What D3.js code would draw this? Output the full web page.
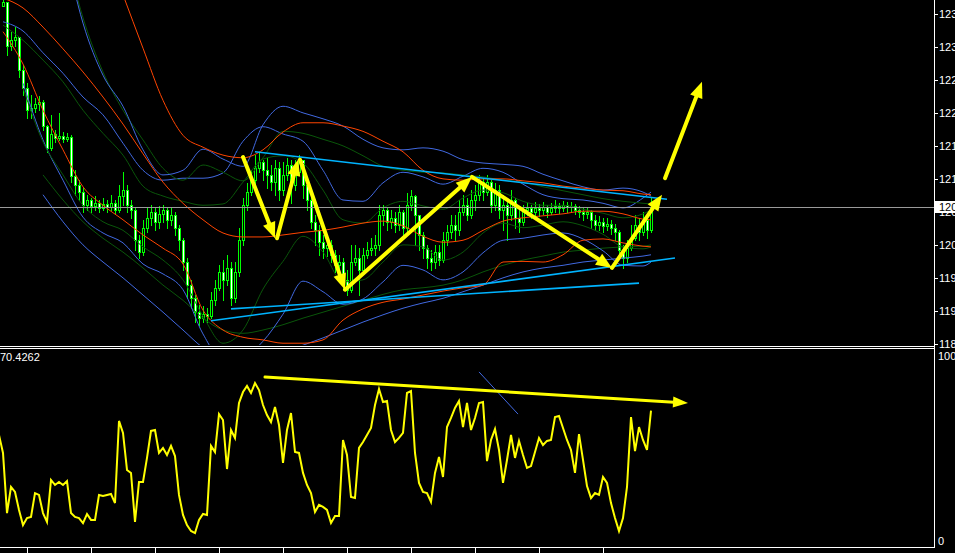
<!DOCTYPE html>
<html><head><meta charset="utf-8">
<script src="https://cdn.jsdelivr.net/npm/d3@7"></script>
<style>html,body{margin:0;padding:0;background:#000;overflow:hidden}</style>
</head><body>
<svg id="c" width="955" height="553"></svg>
<script>
// ---------- DATA ----------
const priceTicks = [1236.38,1231.38,1226.38,1221.38,1216.38,1211.38,1206.38,1201.38,1196.38,1191.38,1186.38];
const priceTickLabels = ["1236.38","1231.38","1226.38","1221.38","1216.38","1211.38","1206.38","1201.38","1196.38","1191.38","1186.38"];
const indTicks = [100, 0];
const indTickLabels = ["100", "0"];
const timeTickBars = [6,22,38,54,70,86,102,118,134,150];
const firstOpen = 1237.6;
const close = [1238.2,1231.6,1232.4,1232.9,1227.9,1225.2,1221.8,1222.1,1222.7,1223.0,
1219.4,1216.1,1218.2,1217.6,1217.9,1217.4,1217.7,1211.8,1210.5,1209.4,
1207.4,1208.2,1207.3,1207.7,1207.0,1207.6,1207.1,1207.7,1206.7,1208.8,
1209.7,1207.4,1206.7,1202.1,1200.3,1203.9,1205.5,1206.4,1204.9,1206.1,
1206.7,1205.2,1205.9,1203.9,1202.1,1198.8,1195.3,1193.3,1191.2,1190.3,
1190.9,1190.6,1193.0,1194.9,1197.3,1196.1,1197.9,1193.3,1197.3,1202.1,
1207.4,1209.4,1211.2,1213.0,1214.0,1212.7,1212.0,1210.9,1213.0,1209.7,
1212.0,1213.5,1210.5,1212.4,1214.3,1210.5,1208.2,1204.9,1203.6,1201.8,
1200.9,1201.4,1199.9,1198.4,1198.8,1196.1,1194.6,1198.8,1199.4,1197.6,
1199.9,1200.6,1200.9,1201.4,1205.9,1206.7,1204.9,1205.5,1204.4,1206.4,
1203.9,1207.4,1208.8,1205.9,1202.9,1200.9,1199.4,1198.8,1200.3,1199.1,
1202.1,1203.3,1204.4,1203.6,1206.4,1207.4,1205.9,1208.2,1209.0,1210.9,
1209.4,1210.9,1207.4,1209.7,1206.7,1207.4,1205.9,1208.2,1205.5,1204.9,
1206.7,1207.0,1206.4,1207.0,1206.7,1207.1,1206.4,1207.0,1207.3,1207.0,
1207.4,1207.1,1207.3,1206.7,1206.4,1206.1,1206.4,1205.2,1204.4,1204.9,
1204.3,1204.6,1203.9,1203.3,1200.6,1199.4,1200.9,1202.4,1204.4,1203.3,
1205.2,1203.6,1207.1];
const high = [1238.5,1235.3,1233.7,1234.4,1232.4,1228.6,1225.9,1224.1,1223.6,1223.9,
1223.3,1219.6,1221.1,1218.8,1221.4,1218.5,1218.3,1218.0,1212.7,1211.2,
1210.0,1209.0,1208.5,1208.8,1208.2,1208.5,1208.2,1209.0,1208.2,1210.5,
1212.4,1210.5,1208.2,1207.0,1202.9,1205.2,1207.0,1207.4,1207.0,1207.3,
1207.4,1207.0,1207.0,1206.4,1204.4,1202.4,1199.4,1196.1,1193.8,1192.3,
1192.1,1191.8,1194.3,1196.1,1198.4,1199.1,1199.9,1198.8,1198.8,1203.9,
1208.5,1210.8,1212.7,1215.0,1215.5,1214.3,1214.6,1213.5,1214.3,1214.0,
1214.0,1214.6,1214.3,1214.3,1215.0,1214.3,1211.2,1209.0,1205.9,1204.4,
1202.9,1202.4,1202.1,1200.6,1199.9,1199.4,1197.6,1201.4,1201.4,1200.9,
1200.9,1201.8,1202.4,1202.9,1207.4,1207.4,1207.0,1206.7,1206.4,1207.4,
1206.7,1209.3,1209.7,1209.0,1205.9,1203.3,1201.4,1200.6,1201.4,1201.4,
1203.3,1204.4,1205.9,1205.9,1208.2,1209.0,1208.5,1209.7,1210.5,1212.0,
1211.5,1212.0,1211.2,1210.8,1210.5,1209.0,1208.5,1209.7,1208.5,1206.7,
1207.4,1207.7,1207.4,1207.9,1207.6,1207.9,1207.4,1207.7,1208.2,1207.7,
1208.0,1207.9,1207.9,1207.6,1207.3,1207.0,1207.1,1206.7,1205.9,1205.8,
1205.5,1205.5,1205.2,1204.6,1203.6,1201.4,1202.1,1204.4,1205.9,1205.5,
1206.4,1205.9,1208.5];
const low = [1237.6,1230.1,1230.9,1231.6,1226.8,1224.1,1220.6,1220.6,1221.5,1221.8,
1218.8,1215.5,1215.8,1217.0,1217.3,1217.0,1217.1,1210.9,1209.0,1208.2,
1206.4,1206.7,1206.4,1206.7,1206.4,1206.7,1206.4,1206.7,1206.1,1206.4,
1207.4,1206.4,1205.5,1200.6,1199.4,1199.9,1203.3,1204.4,1203.6,1203.9,
1204.9,1203.9,1204.4,1202.9,1200.6,1197.6,1193.4,1191.8,1189.7,1189.2,
1189.7,1189.7,1190.3,1192.3,1194.6,1193.0,1195.3,1192.3,1192.7,1196.7,
1201.4,1206.7,1209.0,1210.5,1212.4,1211.2,1210.0,1209.7,1209.0,1208.2,
1209.0,1211.2,1207.7,1209.7,1212.0,1208.5,1206.7,1203.9,1201.4,1199.9,
1199.4,1199.7,1198.8,1197.3,1196.8,1194.9,1193.8,1194.3,1198.4,1193.8,
1197.6,1199.4,1199.9,1199.9,1200.6,1204.4,1203.6,1203.9,1203.3,1203.6,
1202.9,1203.3,1206.7,1201.4,1200.6,1199.4,1197.9,1197.6,1197.9,1198.4,
1198.8,1201.4,1202.4,1202.1,1202.9,1205.9,1205.2,1205.5,1206.7,1208.2,
1208.2,1209.0,1206.4,1206.7,1205.5,1203.6,1202.1,1205.2,1203.9,1203.3,
1204.4,1205.9,1205.5,1205.9,1205.8,1206.1,1205.6,1206.1,1206.4,1206.2,
1206.5,1206.4,1206.5,1206.1,1205.6,1205.2,1205.5,1203.9,1203.6,1203.6,
1203.3,1203.6,1203.0,1202.1,1199.4,1197.9,1198.8,1200.6,1202.1,1202.1,
1202.9,1202.4,1203.3];

// band lines sampled at these bars
const bandBars = [0,5,10,15,20,25,30,35,40,45,50,55,60,65,70,75,80,85,90,95,100,105,110,115,120,125,130,135,140,145,150,155,160,162];
const redUpper = [null,null,null,null,null,null,1239.3,1231.2,1223.3,1218.0,1216.2,1215.0,1214.6,1215.8,1218.5,1219.9,1219.9,1219.4,1218.6,1217.1,1215.5,1212.7,1211.4,1211.2,1211.4,1211.4,1211.1,1210.8,1210.3,1210.0,1209.7,1209.6,1209.1,1209.0];
const redMid = [1238.8,1237.3,1234.4,1231.1,1227.6,1223.8,1219.7,1215.2,1210.9,1207.7,1205.2,1203.2,1202.6,1202.6,1202.9,1203.3,1203.6,1204.1,1204.7,1205.0,1204.3,1202.7,1201.8,1202.1,1203.6,1205.0,1205.5,1205.8,1206.1,1206.5,1206.5,1206.1,1205.3,1205.2];
const redLower = [1233.7,1228.8,1221.8,1215.8,1210.2,1207.4,1205.2,1202.9,1200.9,1198.5,1191.5,1188.5,1187.4,1187.0,1186.5,1186.5,1187.0,1190.0,1191.7,1192.7,1193.2,1193.8,1194.4,1194.9,1195.3,1198.8,1198.9,1198.8,1199.9,1202.1,1202.3,1201.7,1201.2,1201.1];
const blueSlowUpper = [null,null,null,1247.6,1235.0,1227.1,1222.4,1215.8,1212.0,1212.7,1215.9,1214.4,1213.3,1219.6,1222.4,1221.4,1220.5,1219.4,1217.4,1216.1,1215.8,1216.1,1215.6,1214.3,1213.8,1213.6,1213.3,1212.1,1211.1,1210.2,1209.7,1210.0,1209.4,1208.8];
const greenSlowUpper = [null,null,null,1247.6,1235.8,1227.6,1221.8,1217.3,1213.0,1211.2,1213.5,1212.4,1211.1,1214.6,1218.6,1218.3,1217.4,1216.4,1214.9,1213.3,1212.7,1212.4,1212.3,1212.0,1211.7,1211.2,1210.9,1210.2,1209.6,1209.0,1208.4,1208.0,1207.7,1207.6];
const blueFastUpper = [1235.2,1233.8,1230.5,1227.4,1223.8,1221.1,1216.8,1212.7,1211.2,1211.5,1211.5,1212.3,1217.1,1219.3,1218.2,1217.1,1212.7,1208.2,1208.0,1210.8,1212.4,1211.7,1210.6,1211.8,1213.0,1212.4,1210.6,1209.0,1208.4,1208.2,1207.7,1207.0,1208.5,1209.4];
const greenFastUpper = [1234.7,1232.4,1229.4,1226.1,1221.8,1218.3,1215.0,1210.3,1208.8,1208.0,1207.4,1207.6,1210.9,1214.4,1214.9,1213.8,1209.7,1205.2,1204.7,1207.0,1208.0,1207.3,1206.8,1208.5,1209.7,1209.3,1208.0,1207.4,1207.4,1206.8,1206.2,1205.5,1206.1,1206.7];
const greenFastLower = [null,1225.2,1217.0,1212.0,1207.4,1204.9,1203.6,1201.1,1199.1,1196.1,1190.6,1186.5,1188.5,1194.7,1198.9,1202.7,1200.3,1195.8,1196.1,1198.8,1201.4,1201.1,1199.1,1200.3,1203.2,1204.7,1204.0,1204.4,1204.9,1204.3,1203.0,1201.1,1200.8,1201.1];
const blueFastLower = [null,1225.9,1217.3,1211.2,1205.6,1203.2,1201.7,1198.5,1197.0,1194.6,1187.9,1184.0,1184.3,1186.8,1190.9,1195.9,1194.3,1192.4,1193.2,1195.8,1198.3,1197.6,1196.1,1197.3,1200.2,1202.1,1202.4,1202.9,1203.2,1202.3,1200.5,1198.3,1198.2,1198.8];
const greenSlowLower = [null,null,1212.0,1208.2,1204.9,1202.4,1200.3,1197.9,1195.3,1193.0,1190.3,1188.5,1188.0,1188.5,1189.3,1190.3,1191.2,1192.1,1193.0,1193.9,1194.6,1194.9,1195.3,1196.1,1197.3,1198.3,1199.1,1199.7,1200.3,1200.6,1200.9,1201.1,1201.2,1201.4];
const blueSlowLower = [null,null,1209.0,1204.9,1201.4,1198.8,1196.4,1193.8,1191.2,1188.5,1185.8,1184.0,1183.7,1184.3,1185.2,1186.2,1187.3,1188.5,1189.7,1190.8,1191.8,1192.6,1193.3,1194.3,1195.3,1196.4,1197.3,1197.9,1198.3,1198.8,1199.1,1199.4,1199.7,1199.9];

// trend lines: [bar, price] endpoints
const trendLines = [
  [[63,1215.5],[166,1208.3]],
  [[57,1191.7],[159,1195.6]],
  [[52,1189.9],[168,1199.4]]
];
// yellow arrows on price panel
const priceArrows = [
  [[60,1214.7],[68,1202.4]],
  [[68.5,1202.4],[73.75,1214.3]],
  [[74.25,1214.3],[85.5,1194.6]],
  [[85.5,1194.6],[117.25,1211.7]],
  [[117.25,1211.7],[152.25,1197.9]],
  [[152.25,1197.9],[164.75,1209.0]],
  [[165.5,1211.5],[174.75,1226.1]]
];
// oscillator, starting at bar -1
const oscStart = -1;
const osc = [57.3,47.6,15.1,29.2,26.5,16.8,8.6,12.4,13.0,25.9,24.9,
15.1,10.3,33.0,30.3,31.9,30.3,32.4,15.1,13.0,12.4,
9.7,14.6,11.4,11.4,24.9,24.3,24.9,25.4,20.5,64.9,
58.4,38.4,36.8,10.3,31.9,31.9,44.9,59.5,60.0,47.6,
50.3,46.5,51.4,45.9,24.9,14.1,8.6,5.4,4.3,11.4,
14.6,14.1,51.4,48.1,68.6,65.4,38.9,60.0,55.7,74.6,
80.5,83.8,80.0,85.4,81.6,73.5,68.1,64.3,72.4,62.7,
42.2,60.0,69.2,48.1,47.6,36.8,30.3,25.9,15.7,19.5,
18.4,16.8,9.7,13.5,13.5,54.6,46.5,23.8,23.2,50.3,
53.5,57.3,61.1,73.5,82.2,75.1,75.7,60.0,53.5,55.7,
58.4,80.0,81.1,47.6,31.4,26.5,25.9,21.1,36.8,45.4,
34.6,61.6,66.5,71.9,75.7,61.6,74.6,60.0,66.5,74.6,
75.1,43.2,54.6,60.5,49.2,31.4,43.8,57.3,44.9,54.1,
46.5,39.5,40.5,48.1,55.7,51.9,54.1,54.6,67.0,67.6,
61.1,54.6,49.2,36.8,57.8,43.8,29.7,23.2,25.9,24.9,
34.6,31.4,20.5,12.4,5.4,12.4,29.2,67.0,48.6,61.6,
54.6,49.2,70.43];
const oscLabel = "70.4262";
const oscArrow = [[65.5,88.6],[171.25,74.6]];
const oscBlueLine = [[119,91.4],[128.75,68.6]];

// ---------- DRAW ----------
const W = 955, H = 553;
const svg = d3.select('#c');
svg.append('rect').attr('width', W).attr('height', H).attr('fill', '#000');
const x = d3.scaleLinear().domain([0, 162]).range([3, 651]);
const y = d3.scaleLinear().domain([1186.38, 1236.38]).range([344, 14]);
const yi = d3.scaleLinear().domain([0, 100]).range([541, 356]);
const AX = 934;

const defs = svg.append('defs');
defs.append('clipPath').attr('id', 'cm').append('rect').attr('x', 0).attr('y', 0).attr('width', AX).attr('height', 345);
defs.append('clipPath').attr('id', 'ci').append('rect').attr('x', 0).attr('y', 349).attr('width', AX).attr('height', 198);

const gm = svg.append('g').attr('clip-path', 'url(#cm)');
const gi = svg.append('g').attr('clip-path', 'url(#ci)');

// candles
const LIME = '#00ff00';
const gc = gm.append('g');
close.forEach((c, i) => {
  const o = i === 0 ? firstOpen : close[i - 1];
  const cx = Math.round(x(i));
  const hi = Math.max(high[i], o, c), lo = Math.min(low[i], o, c);
  gc.append('line').attr('x1', cx + 0.5).attr('x2', cx + 0.5)
    .attr('y1', Math.round(y(hi))).attr('y2', Math.round(y(lo)) + 1)
    .attr('stroke', LIME).attr('stroke-width', 1);
  const top = Math.round(y(Math.max(o, c))), bot = Math.round(y(Math.min(o, c)));
  const h = Math.max(1, bot - top + 1);
  gc.append('rect').attr('x', cx - 1).attr('y', top).attr('width', 3).attr('height', h).attr('fill', LIME);
  if (h > 2) {
    gc.append('rect').attr('x', cx).attr('y', top + 1).attr('width', 1).attr('height', h - 2)
      .attr('fill', c < o ? '#ffffff' : '#000000');
  }
});

// bands
const bandLine = d3.line()
  .defined(d => d[1] !== null)
  .x(d => x(d[0])).y(d => y(d[1]))
  .curve(d3.curveMonotoneX);
const bands = [
  [blueSlowLower, '#4169e1'], [greenSlowLower, '#0a560a'],
  [blueFastLower, '#4169e1'], [greenFastLower, '#0a560a'],
  [greenFastUpper, '#0a560a'], [blueFastUpper, '#4169e1'],
  [greenSlowUpper, '#0a560a'], [blueSlowUpper, '#4169e1'],
  [redLower, '#ff4500'], [redMid, '#ff4500'], [redUpper, '#ff4500']
];
bands.forEach(([vals, col]) => {
  gm.append('path').datum(bandBars.map((b, k) => [b, vals[k]]))
    .attr('d', bandLine).attr('fill', 'none').attr('stroke', col).attr('stroke-width', 1);
});

// trend lines
trendLines.forEach(t => {
  gm.append('line').attr('x1', x(t[0][0])).attr('y1', y(t[0][1]))
    .attr('x2', x(t[1][0])).attr('y2', y(t[1][1]))
    .attr('stroke', '#00b4ff').attr('stroke-width', 1.6);
});

// current price line
const cur = close[close.length - 1];
gm.append('line').attr('x1', 0).attr('x2', AX).attr('y1', Math.round(y(cur)) + 0.5).attr('y2', Math.round(y(cur)) + 0.5)
  .attr('stroke', '#9a9a9a').attr('stroke-width', 1);

function arrow(g, x1, y1, x2, y2, w, hl, hw, col) {
  const dx = x2 - x1, dy = y2 - y1, L = Math.hypot(dx, dy), ux = dx / L, uy = dy / L;
  const bx = x2 - ux * hl, by = y2 - uy * hl;
  g.append('line').attr('x1', x1).attr('y1', y1).attr('x2', bx + ux).attr('y2', by + uy)
    .attr('stroke', col).attr('stroke-width', w).attr('stroke-linecap', 'round');
  g.append('path').attr('d', `M${x2},${y2}L${bx - uy * hw / 2},${by + ux * hw / 2}L${bx + uy * hw / 2},${by - ux * hw / 2}Z`)
    .attr('fill', col);
}
const YEL = '#ffff00';
const ga = svg.append('g');
priceArrows.forEach(a => arrow(ga, x(a[0][0]), y(a[0][1]), x(a[1][0]), y(a[1][1]), 4, 16, 13, YEL));

// oscillator
const oscLine = d3.line().x((d, k) => x(oscStart + k)).y(d => yi(d));
gi.append('path').datum(osc).attr('d', oscLine).attr('fill', 'none').attr('stroke', YEL).attr('stroke-width', 2);
gi.append('line').attr('x1', x(oscBlueLine[0][0])).attr('y1', yi(oscBlueLine[0][1]))
  .attr('x2', x(oscBlueLine[1][0])).attr('y2', yi(oscBlueLine[1][1]))
  .attr('stroke', '#4169e1').attr('stroke-width', 1);
arrow(svg, x(oscArrow[0][0]), yi(oscArrow[0][1]), x(oscArrow[1][0]), yi(oscArrow[1][1]), 3, 15, 11, YEL);

// frame
const fr = svg.append('g').attr('stroke', '#ffffff').attr('stroke-width', 1);
fr.append('line').attr('x1', AX + 0.5).attr('x2', AX + 0.5).attr('y1', 0).attr('y2', 548);
fr.append('line').attr('x1', 0).attr('x2', AX).attr('y1', 346.5).attr('y2', 346.5);
fr.append('line').attr('x1', 0).attr('x2', AX).attr('y1', 348.5).attr('y2', 348.5);
fr.append('line').attr('x1', 0).attr('x2', AX + 1).attr('y1', 547.5).attr('y2', 547.5);
timeTickBars.forEach(b => {
  fr.append('line').attr('x1', Math.round(x(b)) + 0.5).attr('x2', Math.round(x(b)) + 0.5).attr('y1', 548).attr('y2', 553);
});

// price axis
const FONT = "'Liberation Sans', Arial, sans-serif";
priceTicks.forEach((v, k) => {
  const yy = Math.round(y(v));
  fr.append('line').attr('x1', AX + 1).attr('x2', AX + 4).attr('y1', yy + 0.5).attr('y2', yy + 0.5);
  svg.append('text').attr('x', 939).attr('y', yy + 4).attr('fill', '#ffffff')
    .attr('font-family', FONT).attr('font-size', 11).text(priceTickLabels[k]);
});
// current price box
const cy = Math.round(y(cur));
svg.append('rect').attr('x', 935).attr('y', cy - 6).attr('width', 22).attr('height', 12).attr('fill', '#ffffff');
svg.append('text').attr('x', 939).attr('y', cy + 4).attr('fill', '#000000')
  .attr('font-family', FONT).attr('font-size', 11).text(d3.format('.2f')(cur));

// oscillator axis
indTicks.forEach((v, k) => {
  svg.append('text').attr('x', 938).attr('y', Math.round(yi(v)) + 4).attr('fill', '#ffffff')
    .attr('font-family', FONT).attr('font-size', 11).text(indTickLabels[k]);
});
svg.append('text').attr('x', 0).attr('y', 361).attr('fill', '#ffffff')
  .attr('font-family', FONT).attr('font-size', 11).text(oscLabel);
</script>
</body></html>
